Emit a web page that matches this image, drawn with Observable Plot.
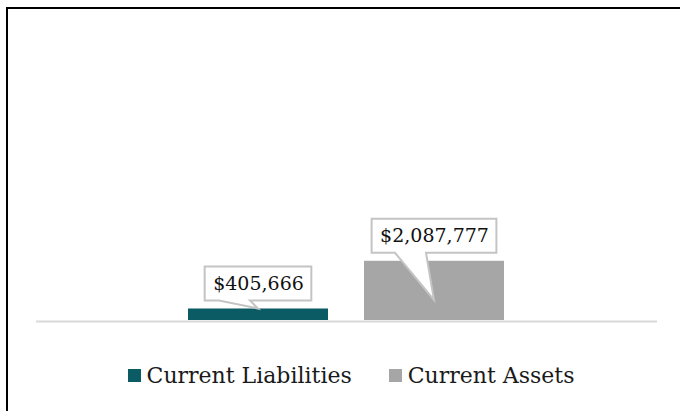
<!DOCTYPE html>
<html><head><meta charset="utf-8">
<script src="https://cdn.jsdelivr.net/npm/d3@7"></script>
<script src="https://cdn.jsdelivr.net/npm/@observablehq/plot@0.6"></script>
<style>
html,body{margin:0;padding:0;background:#fff;}
#wrap{position:relative;width:680px;height:411px;overflow:hidden;background:#fff;}
#frame{position:absolute;left:6px;top:7px;width:720px;height:440px;border-left:2px solid #000;border-top:2px solid #000;pointer-events:none;}
#chart{position:absolute;left:0;top:0;}
#legend{position:absolute;left:0;top:361px;width:680px;height:28px;display:flex;justify-content:center;align-items:center;padding-left:22px;box-sizing:border-box;font-family:"DejaVu Serif",serif;font-size:22px;color:#1a1a1a;}
.item{display:flex;align-items:center;margin:0 18.5px;}
.sw{width:13px;height:13px;margin-right:6px;}
</style>
</head><body>
<div id="wrap"><div id="chart"></div><div id="legend"></div><div id="frame"></div></div>
<script>
const categories = ["Current Liabilities", "Current Assets"];
const values = [405666, 2087777];
const labels = ["$405,666", "$2,087,777"];
const colors = ["#0a5b64", "#a6a6a6"];

const data = categories.map((c, i) => ({category: c, value: values[i], label: labels[i]}));
const labelFont = "19px 'DejaVu Serif'";
const ctx = document.createElement("canvas").getContext("2d");
ctx.font = labelFont;

function callouts(index, scales, vals, dims) {
  const xs = scales.x, ys = scales.y;
  const bw = typeof xs.bandwidth === "function" ? xs.bandwidth() : xs.bandwidth;
  const g = d3.create("svg:g");
  const y0 = ys(0);
  for (const d of data) {
    const cx = xs(d.category) + bw / 2;
    const top = ys(d.value);
    const tw = ctx.measureText(d.label).width;
    const w = tw + 16, h = 34;
    const bx0 = cx - w / 2, bx1 = cx + w / 2;
    const by1 = top - 8, by0 = by1 - h;
    const tipY = Math.max(top, y0 - 20);
    const p = `M${bx0},${by0}H${bx1}V${by1}H${cx - 8}L${cx},${tipY}L${cx - 39},${by1}H${bx0}Z`;
    g.append("path").attr("d", p).attr("fill", "#fff").attr("stroke", "#c4c4c4").attr("stroke-width", 2).attr("stroke-linejoin", "miter");
  }
  return g.node();
}

const chart = Plot.plot({
  width: 680,
  height: 345,
  marginTop: 25,
  marginBottom: 25,
  marginLeft: 36,
  marginRight: 23,
  style: {background: "transparent", fontFamily: "DejaVu Serif"},
  x: {domain: categories, paddingInner: 0.2045, paddingOuter: 0.866, axis: null},
  y: {domain: [0, 10400000], axis: null},
  color: {domain: categories, range: colors},
  marks: [
    Plot.barY(data, {x: "category", y: "value", fill: "category"}),
    Plot.ruleY([0], {stroke: "#d9d9d9", strokeWidth: 2, dy: 1}),
    callouts,
    Plot.text(data, {x: "category", y: "value", text: "label", dy: -25, fontSize: 19, fontFamily: "DejaVu Serif", fill: "#111", lineAnchor: "middle"})
  ]
});
document.getElementById("chart").appendChild(chart);

const legend = document.getElementById("legend");
categories.forEach((c, i) => {
  const it = document.createElement("div");
  it.className = "item";
  const sw = document.createElement("div");
  sw.className = "sw";
  sw.style.background = colors[i];
  const t = document.createElement("span");
  t.textContent = c;
  it.appendChild(sw); it.appendChild(t);
  legend.appendChild(it);
});
</script>
</body></html>
